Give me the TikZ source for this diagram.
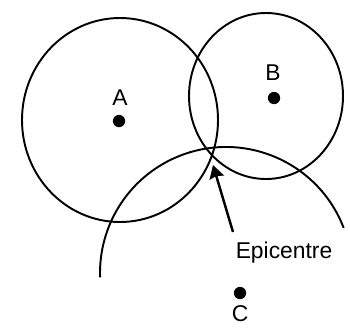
\documentclass[tikz,border=0pt]{standalone}
\usepackage{fontspec}
\setmainfont{Liberation Sans}
\usetikzlibrary{arrows.meta}

\begin{document}
\begin{tikzpicture}[x=0.02cm, y=0.02cm, line width=1.1pt, every node/.style={font=\fontsize{13}{15}\selectfont}, stn/.style={circle, fill=black, minimum size=7pt, inner sep=0pt}]
	\useasboundingbox (0,0) rectangle (350,329);
	% stations
	\node[stn] (A) at (119,208) {};
	\node[stn] (B) at (274,231) {};
	\node[stn] (C) at (240,36) {};
	\node (la) at (120,231) {A};
	\node (lb) at (273,256) {B};
	\node (lc) at (240,15) {C};
	% range of each station
	\draw (120,209) ellipse [x radius=98, y radius=102];
	\draw (266,233) ellipse [x radius=77, y radius=83];
	\draw (226,56) ++(21:126) arc [start angle=21, end angle=182, radius=126];
	% epicentre
	\coordinate (E) at (213,164);
	\coordinate (T) at (233,97);
	\node (epi) at (284,76) {Epicentre};
	\draw[line width=1.4pt, -{Stealth[length=7.5pt, width=8.5pt, inset=1pt]}] (T) -- (E);
\end{tikzpicture}
\end{document}
